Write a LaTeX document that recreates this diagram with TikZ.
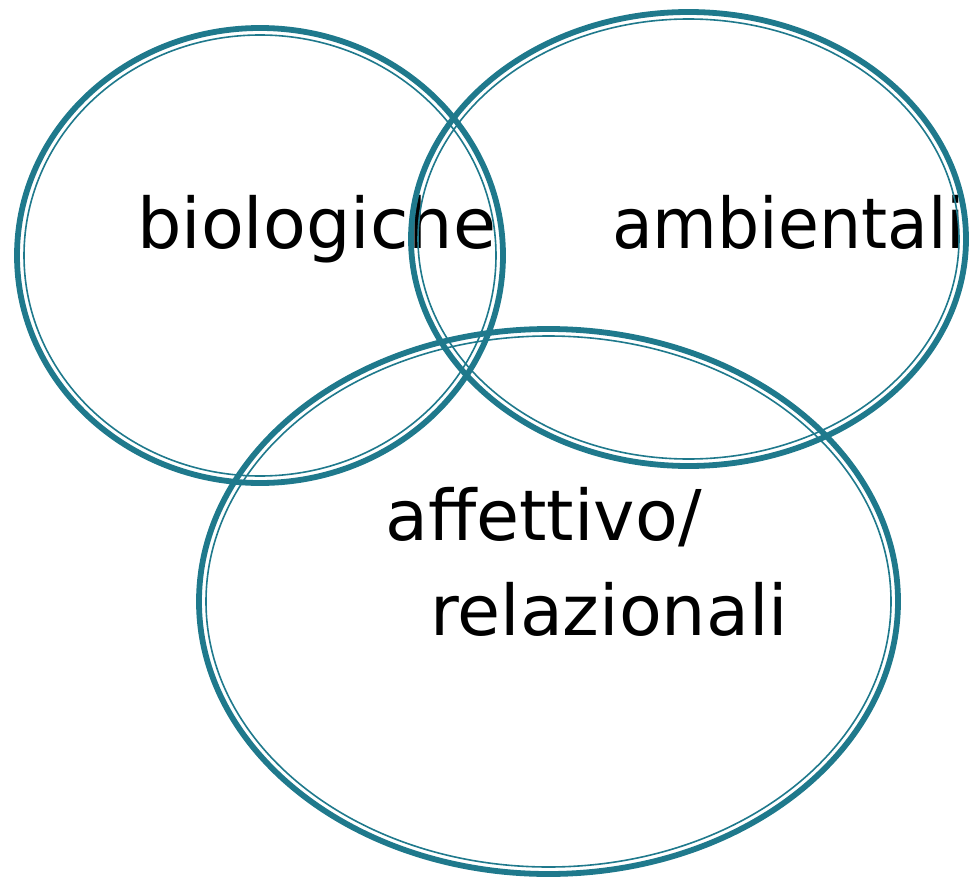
\documentclass[tikz,border=0pt]{standalone}
\usepackage{fontspec}
\setmainfont{DejaVu Sans}
\definecolor{teal1}{RGB}{31,121,140}
\begin{document}
\begin{tikzpicture}[x=1pt,y=-1pt,
  lbl/.style={inner sep=0pt,anchor=base west,font=\fontsize{70}{84}\selectfont},
  outerring/.style={draw=teal1,line width=5.8pt},
  innerring/.style={draw=teal1,line width=1.6pt}]
\useasboundingbox (0,0) rectangle (969,880);
\node[lbl] (bio) at (137,248) {biologiche};
\node[lbl] (amb) at (612,248) {\scalebox{0.95}[1]{ambientali}};
\node[lbl] (aff) at (385,540) {affettivo/};
\node[lbl] (rel) at (430,635) {relazionali};
\draw[outerring] (260,255.5) ellipse [x radius=243, y radius=227.5];
\draw[innerring] (260,255.5) ellipse [x radius=236, y radius=220.5];
\draw[outerring] (688.5,239) ellipse [x radius=277.5, y radius=227];
\draw[innerring] (688.5,239) ellipse [x radius=270.5, y radius=220];
\draw[outerring] (548.5,601.5) ellipse [x radius=349.5, y radius=272.5];
\draw[innerring] (548.5,601.5) ellipse [x radius=342.5, y radius=265.5];
\end{tikzpicture}
\end{document}
